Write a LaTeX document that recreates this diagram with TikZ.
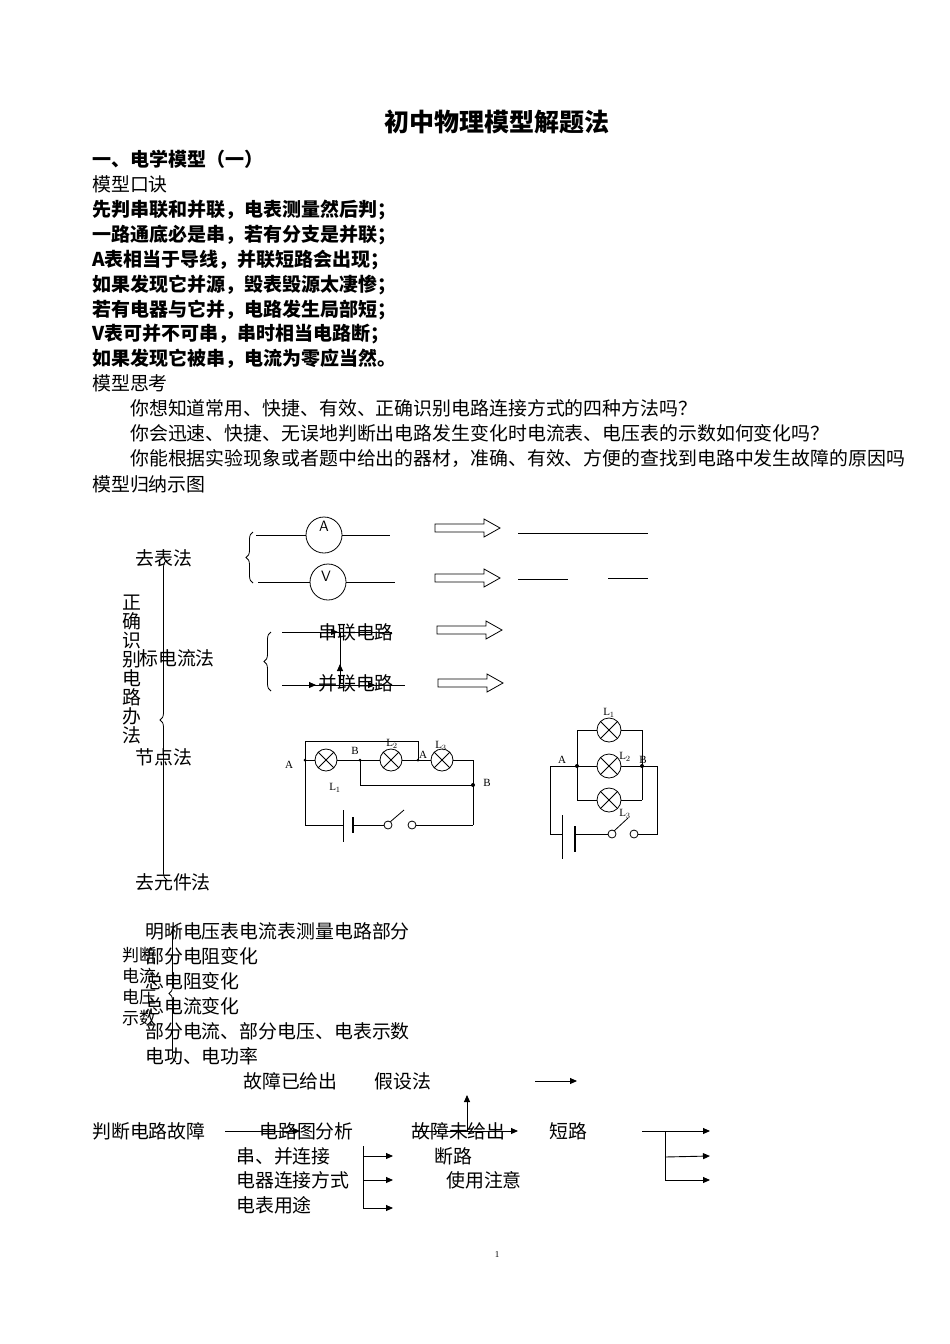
\documentclass[tikz,border=0pt]{standalone}
\usepackage{fontspec}
\setmainfont{Liberation Serif}
\newfontfamily\cjk{Noto Sans CJK SC}
\usetikzlibrary{arrows.meta,decorations.pathreplacing}
\begin{document}
\begin{tikzpicture}[x=1pt,y=-1pt,
  tx/.style={anchor=base west,inner sep=0pt,font=\cjk\fontsize{18.9}{19}\selectfont},
  bx/.style={anchor=base west,inner sep=0pt,font=\cjk\bfseries\fontsize{19}{19}\selectfont},
  sm/.style={inner sep=0pt,font=\fontsize{11}{11}\selectfont},
  w/.style={line width=0.8pt},
  ar/.style={line width=0.9pt,-{Triangle[length=7pt,width=6pt]}},
  brc/.style={decorate,decoration={brace,amplitude=7pt},line width=0.8pt}]
\useasboundingbox (0,0) rectangle (950,1344);
\fill[white] (0,0) rectangle (950,1344);
\node[anchor=base,inner sep=0pt,font=\cjk\bfseries\fontsize{25}{26}\selectfont] (title) at (497,131) {初中物理模型解题法};
\node[bx] (h1) at (92,166) {一、电学模型（一）};
\node[tx] (m1) at (92,191) {模型口诀};
\foreach \t [count=\i] in {先判串联和并联，电表测量然后判；,一路通底必是串，若有分支是并联；,A表相当于导线，并联短路会出现；,如果发现它并源，毁表毁源太凄惨；,若有电器与它并，电路发生局部短；,V表可并不可串，串时相当电路断；,如果发现它被串，电流为零应当然。}
  \node[bx] (k\i) at (92,{192+24.8*\i}) {\t};
\node[tx] (m2) at (92,390) {模型思考};
\node[tx] (q1) at (130,415) {你想知道常用、快捷、有效、正确识别电路连接方式的四种方法吗？};
\node[tx] (q2) at (130,440) {你会迅速、快捷、无误地判断出电路发生变化时电流表、电压表的示数如何变化吗？};
\node[tx] (q3) at (130,465) {你能根据实验现象或者题中给出的器材，准确、有效、方便的查找到电路中发生故障的原因吗};
\node[tx] (m3) at (92,491) {模型归纳示图};
% left labels
\node[tx] (d1) at (135,565) {去表法};
\foreach \c [count=\i] in {正,确,识,别,电,路,办,法}
  \node[tx] (v\i) at (122,{609+19*(\i-1)}) {\c};
\node[tx] (d2) at (139,665) {标电流法};
\node[tx] (d3) at (135,764) {节点法};
\node[tx] (d4) at (135,889) {去元件法};
\draw[brc] (167,880) -- (167,560);
% ammeter/voltmeter
\draw[brc] (253,583) -- (253,532);
\draw[w] (256,535) -- (306,535) (342,535) -- (390,535);
\draw[w] (324,535) circle (18);
\node[font=\fontsize{15}{15}\selectfont\sffamily,inner sep=0] (A) at (324,526) {A};
\draw[w] (258,582) -- (310,582) (346,582) -- (395,582);
\draw[w] (328,582) circle (18);
\node[font=\fontsize{15}{15}\selectfont\sffamily,inner sep=0] (V) at (326,576) {V};
\foreach \xa/\xb/\yy in {435/500/528,435/500/578,437/502/630,438/503/683}
  \draw[w] (\xa,\yy-4) -- (\xb-16,\yy-4) -- (\xb-16,\yy-9) -- (\xb,\yy) -- (\xb-16,\yy+9) -- (\xb-16,\yy+4) -- (\xa,\yy+4) -- cycle;
\draw[w] (518,533) -- (648,533);
\draw[w] (518,579) -- (568,579) (608,578) -- (648,578);
% current method
\draw[brc] (271,691) -- (271,632);
\node[tx] (s1) at (318,639) {串联电路};
\node[tx] (s2) at (318,690) {并联电路};
\draw[ar] (282,632) -- (338,632); \draw[w] (336,632) -- (392,632);
\draw[ar] (282,685) -- (316,685); \draw[ar] (314,685) -- (375,685); \draw[w] (373,685) -- (405,685);
\draw[w] (340,632) -- (340,668); \draw[ar] (340,684) -- (340,664);
% circuit 1
\draw[w] (305,825) -- (305,741) -- (418,741) -- (418,760);
\draw[w] (305,760) -- (315,760) (337,760) -- (380,760) (402,760) -- (431,760) (453,760) -- (473,760) -- (473,825);
\foreach \x in {326,391,442}{
  \draw[w] (\x,760) circle (11);
  \draw[w] (\x-7.8,752.2) -- (\x+7.8,767.8) (\x-7.8,767.8) -- (\x+7.8,752.2);}
\draw[w] (360,760) -- (360,785) -- (473,785);
\fill (305,760) circle (1.5) (360,760) circle (1.5) (418,760) circle (1.5) (473,785) circle (2);
\draw[w] (305,825) -- (343,825) (353,825) -- (384,825) (416,825) -- (473,825);
\draw[w] (343,810) -- (343,842); \draw[line width=2.5pt] (353,817) -- (353,833);
\draw[w] (388,825) circle (4) (412,825) circle (4) (390,822) -- (404,810);
\node[sm] (lA1) at (289,765) {A};
\node[sm] (lB1) at (355,751) {B};
\node[sm] (lL2) at (392,744) {L$_2$};
\node[sm] (lA2) at (423,755) {A};
\node[sm] (lL3) at (441,746) {L$_3$};
\node[sm] (lB2) at (487,783) {B};
\node[sm] (lL1) at (335,788) {L$_1$};
% circuit 2
\foreach \y in {730,766,800}{
  \draw[w] (609,\y) circle (12);
  \draw[w] (600.5,\y-8.5) -- (617.5,\y+8.5) (600.5,\y+8.5) -- (617.5,\y-8.5);
  \draw[w] (577,\y) -- (597,\y) (621,\y) -- (642,\y);}
\draw[w] (577,730) -- (577,800) (642,730) -- (642,800);
\draw[w] (550,766) -- (577,766) (642,766) -- (657,766);
\fill (577,766) circle (2) (642,766) circle (2);
\draw[w] (550,766) -- (550,834) -- (562,834) (575,834) -- (608,834) (638,834) -- (657,834) -- (657,766);
\draw[w] (562,815) -- (562,859); \draw[line width=2.5pt] (575,826) -- (575,852);
\draw[w] (612,834) circle (4) (634,834) circle (4) (614,831) -- (628,818);
\node[sm] (mA) at (562,760) {A};
\node[sm] (mB) at (643,760) {B};
\node[sm] (m1l) at (609,713) {L$_1$};
\node[sm] (m2l) at (625,757) {L$_2$};
\node[sm] (m3l) at (625,814) {L$_3$};
% section 2
\foreach \t [count=\i] in {明晰电压表电流表测量电路部分,部分电阻变化,总电阻变化,总电流变化,部分电流、部分电压、电表示数,电功、电功率}
  \node[tx] (p\i) at (145,{938+25*(\i-1)}) {\t};
\foreach \t [count=\i] in {判断,电流,电压,示数}
  \node[tx,font=\cjk\fontsize{17}{17}\selectfont] (r\i) at (122,{961+21*(\i-1)}) {\t};
\draw[brc] (176,1062) -- (176,925);
% bottom
\node[tx] (g1) at (243,1088) {故障已给出};
\node[tx] (g2) at (374,1088) {假设法};
\draw[ar] (535,1081) -- (577,1081);
\node[tx] (b1) at (92,1138) {判断电路故障};
\node[tx] (b2) at (259,1138) {电路图分析};
\node[tx] (b3) at (411,1138) {故障未给出};
\node[tx] (b4) at (549,1138) {短路};
\draw[ar] (225,1131) -- (300,1131);
\draw[ar] (415,1131) -- (518,1131);
\draw[ar] (467,1131) -- (467,1095);
\draw[w] (642,1131) -- (665,1131);
\draw[ar] (665,1131) -- (710,1131);
\draw[w] (665,1131) -- (665,1180);
\draw[ar] (665,1157) -- (710,1156);
\draw[ar] (665,1180) -- (710,1180);
\node[tx] (c1) at (236,1163) {串、并连接};
\node[tx] (c2) at (236,1187) {电器连接方式};
\node[tx] (c3) at (236,1212) {电表用途};
\node[tx] (c4) at (434,1163) {断路};
\node[tx] (c5) at (446,1187) {使用注意};
\draw[w] (363,1146) -- (363,1208);
\draw[ar] (363,1156) -- (393,1156);
\draw[ar] (363,1180) -- (393,1180);
\draw[ar] (363,1208) -- (393,1208);
\node[inner sep=0,font=\fontsize{9}{9}\selectfont] (pg) at (497,1255) {1};
\end{tikzpicture}
\end{document}
